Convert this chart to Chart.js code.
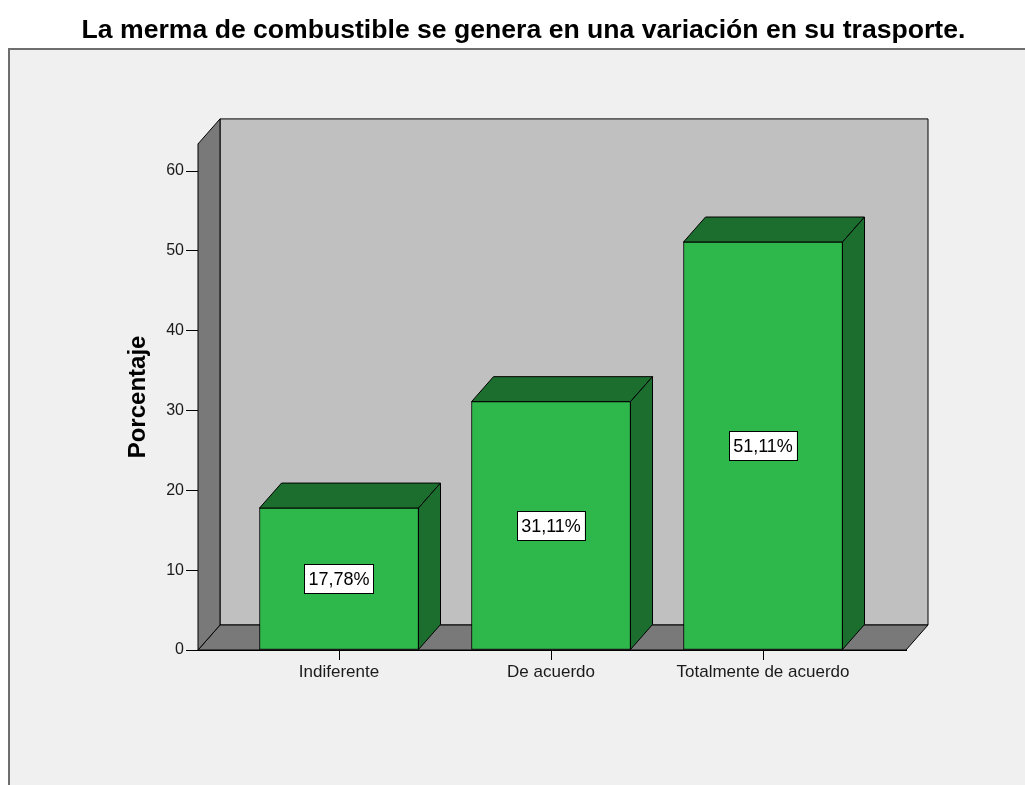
<!DOCTYPE html>
<html>
<head>
<meta charset="utf-8">
<script src="https://cdn.jsdelivr.net/npm/chart.js@4"></script>
<style>
  html, body { margin: 0; padding: 0; background: #fff; }
  canvas { display: block; }
</style>
</head>
<body>
<canvas id="c" width="1025" height="785"></canvas>
<script>
/* Gráfico de barras 3D estilo SPSS */

const categories = ['Indiferente', 'De acuerdo', 'Totalmente de acuerdo'];
const percentages = [17.78, 31.11, 51.11];
const yTicks = [0, 10, 20, 30, 40, 50, 60];
const chartTitle = 'La merma de combustible se genera en una variación en su trasporte.';
const yTitle = 'Porcentaje';

const DX = 22, DY = 25;          // profundidad de la caja 3D
const FONT = "'Liberation Sans', Arial, sans-serif";

function poly(ctx, pts, fill) {
  ctx.beginPath();
  ctx.moveTo(pts[0][0], pts[0][1]);
  pts.slice(1).forEach(p => ctx.lineTo(p[0], p[1]));
  ctx.closePath();
  ctx.fillStyle = fill;
  ctx.fill();
  ctx.stroke();
}

const framePlugin = {
  id: 'frame',
  beforeDraw(chart) {
    const ctx = chart.ctx;
    ctx.save();
    ctx.fillStyle = '#fff';
    ctx.fillRect(0, 0, chart.width, chart.height);
    ctx.fillStyle = '#f0f0f0';
    ctx.fillRect(8, 48, chart.width - 8, chart.height - 48);
    ctx.strokeStyle = '#6e6e6e';
    ctx.lineWidth = 2;
    ctx.beginPath();
    ctx.moveTo(9, chart.height);
    ctx.lineTo(9, 49);
    ctx.lineTo(chart.width, 49);
    ctx.stroke();
    ctx.restore();
  }
};

const box3dPlugin = {
  id: 'box3d',
  beforeDatasetsDraw(chart) {
    const { ctx, chartArea: a } = chart;
    ctx.save();
    ctx.strokeStyle = '#000';
    ctx.lineWidth = 1;
    // pared trasera
    poly(ctx, [[a.left + DX, a.top - DY], [a.right + DX, a.top - DY], [a.right + DX, a.bottom - DY], [a.left + DX, a.bottom - DY]], '#c0c0c0');
    // suelo
    poly(ctx, [[a.left, a.bottom], [a.right, a.bottom], [a.right + DX, a.bottom - DY], [a.left + DX, a.bottom - DY]], '#797979');
    // pared lateral
    poly(ctx, [[a.left, a.bottom], [a.left, a.top], [a.left + DX, a.top - DY], [a.left + DX, a.bottom - DY]], '#797979');
    // caras superior y lateral de cada barra
    chart.getDatasetMeta(0).data.forEach(bar => {
      const l = bar.x - bar.width / 2, r = bar.x + bar.width / 2;
      poly(ctx, [[l, bar.y], [l + DX, bar.y - DY], [r + DX, bar.y - DY], [r, bar.y]], '#1c6e2f');
      poly(ctx, [[r, bar.y], [r + DX, bar.y - DY], [r + DX, bar.base - DY], [r, bar.base]], '#1c6e2f');
    });
    ctx.restore();
  },
  afterDatasetsDraw(chart) {
    const ctx = chart.ctx;
    ctx.save();
    ctx.font = '18px ' + FONT;
    ctx.textAlign = 'center';
    ctx.textBaseline = 'middle';
    chart.getDatasetMeta(0).data.forEach((bar, i) => {
      const txt = percentages[i].toFixed(2).replace('.', ',') + '%';
      const cy = (bar.y + bar.base) / 2;
      const w = ctx.measureText(txt).width + 8, h = 29;
      ctx.fillStyle = '#fff';
      ctx.fillRect(bar.x - w / 2, cy - h / 2, w, h);
      ctx.strokeStyle = '#000';
      ctx.lineWidth = 1;
      ctx.strokeRect(Math.round(bar.x - w / 2) + 0.5, Math.round(cy - h / 2) + 0.5, Math.round(w), h);
      ctx.fillStyle = '#000';
      ctx.fillText(txt, bar.x, cy + 1);
    });
    ctx.restore();
  }
};

new Chart(document.getElementById('c'), {
  type: 'bar',
  data: {
    datasets: [{
      data: percentages.map((v, i) => ({ x: i, y: v })),
      backgroundColor: '#2eb84b',
      borderColor: '#000',
      borderWidth: 1,
      borderSkipped: false,
      barThickness: 159
    }]
  },
  options: {
    responsive: false,
    animation: false,
    layout: { padding: { left: 22, right: 0, top: 0, bottom: 0 } },
    plugins: {
      legend: { display: false },
      tooltip: { enabled: false },
      title: {
        display: true, text: chartTitle, color: '#000',
        font: { family: FONT, size: 26.6, weight: 'bold' },
        padding: { top: 15, bottom: 97 }
      }
    },
    scales: {
      x: {
        type: 'linear', min: -0.6651, max: 2.6745, offset: false,
        afterBuildTicks: s => { s.ticks = categories.map((_, i) => ({ value: i })); },
        afterFit: s => { s.height = 135; },
        ticks: { callback: v => categories[v], color: '#1a1a1a', font: { family: FONT, size: 17 }, padding: 2, autoSkip: false, maxRotation: 0 },
        grid: { drawOnChartArea: false, offset: false, tickLength: 10, color: '#000' },
        border: { color: '#000' }
      },
      y: {
        min: 0, max: 63.4,
        afterBuildTicks: s => { s.ticks = yTicks.map(v => ({ value: v })); },
        afterFit: s => { s.width = 176; },
        ticks: { color: '#1a1a1a', font: { family: FONT, size: 16 }, padding: 2 },
        grid: { drawOnChartArea: false, tickLength: 12, color: '#000' },
        border: { color: '#000' },
        title: { display: true, text: yTitle, color: '#000', font: { family: FONT, size: 24, weight: 'bold' }, padding: { top: 102, bottom: 0 } }
      },
      // margen derecho para dejar sitio a la profundidad 3D
      yRight: {
        position: 'right', display: true,
        afterFit: s => { s.width = 119; },
        ticks: { display: false },
        grid: { display: false, drawTicks: false },
        border: { display: false }
      }
    }
  },
  plugins: [framePlugin, box3dPlugin]
});
</script>
</body>
</html>
